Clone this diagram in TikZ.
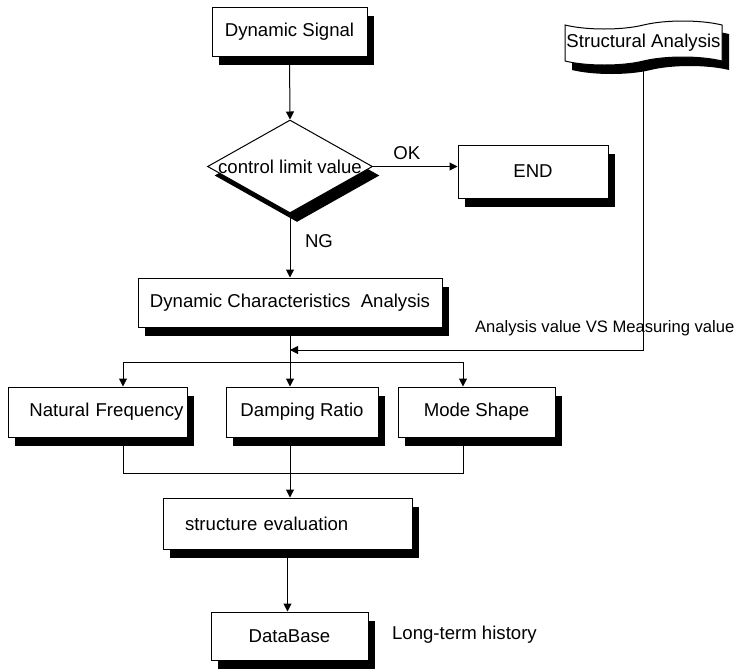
\documentclass[tikz,border=0pt]{standalone}
\usepackage{fontspec}
\setmainfont{Liberation Sans}
\usetikzlibrary{arrows.meta,shapes.geometric,shapes.symbols,shadows}

\begin{document}
\begin{tikzpicture}[x=0.5pt,y=-0.5pt,font=\fontsize{9.3}{11}\selectfont,
  box/.style={draw,fill=white,line width=0.5pt,inner sep=0pt,
    drop shadow={opacity=1,fill=black,shadow xshift=3.5pt,shadow yshift=-4.5pt}},
  arr/.style={-{Triangle[length=4pt,width=4pt]},line width=0.5pt}]
  \useasboundingbox (0,0) rectangle (750,670);
  % top part
  \node[box,minimum width=77.5pt,minimum height=24.5pt] (signal) at (289.5,31.5) {Dynamic Signal};
  \node[box,diamond,minimum width=82.5pt,minimum height=46.5pt] (limit) at (290,166.5) {};
  \node (limittext) at (limit) {control limit value};
  \node[box,minimum width=75pt,minimum height=26.5pt] (end) at (533,171.5) {END};
  \node[box,tape,tape bend top=in and out,tape bend bottom=in and out,tape bend height=4pt,
    minimum width=78.5pt,minimum height=22pt] (struct) at (643.5,43) {Structural Analysis};
  \node[box,minimum width=152pt,minimum height=24.5pt] (dca) at (290,302.5) {Dynamic Characteristics\ \ Analysis};
  % results
  \node[box,minimum width=89.5pt,minimum height=25pt,text width=86pt,align=right] (natural) at (97.5,412) {Natural Frequency};
  \node[box,minimum width=76pt,minimum height=25pt] (damping) at (302,412) {Damping Ratio};
  \node[box,minimum width=78.5pt,minimum height=25pt] (mode) at (476.5,412) {Mode Shape};
  \node[box,minimum width=124.5pt,minimum height=25.5pt,text width=102.5pt,align=left] (eval) at (287.5,523.5) {structure evaluation};
  \node[box,minimum width=78.5pt,minimum height=24pt] (db) at (289.5,636) {DataBase};
  % labels
  \node[anchor=west] (ng) at (298,241) {NG};
  \node[anchor=west,font=\fontsize{8.3}{10}\selectfont] (vs) at (468,328) {Analysis value VS Measuring value};
  \node[anchor=west] (history) at (385,635) {Long-term history};
  \coordinate (join) at (290,350);
  \coordinate (split) at (290,362);
  \coordinate (merge) at (290,473);
  % connectors
  \draw[arr] (signal.south) -- (limit.north);
  \draw[arr] (limit.east) -- node[above,pos=0.4] (ok) {OK} (limit.east -| end.west);
  \draw[arr] (limit.south) -- (dca.north);
  \draw[arr] (struct.south) |- (join);
  \draw (dca.south) -- (split);
  \foreach \b/\dx in {natural/12.75pt,damping/-6pt,mode/-6.75pt} {
    \draw[arr] (split) -| ([xshift=\dx]\b.north);
    \draw ([xshift=\dx]\b.south) |- (merge);
  }
  \draw[arr] (merge) -- (merge |- eval.north);
  \draw[arr] (eval.south) -- (eval.south |- db.north);
\end{tikzpicture}
\end{document}
